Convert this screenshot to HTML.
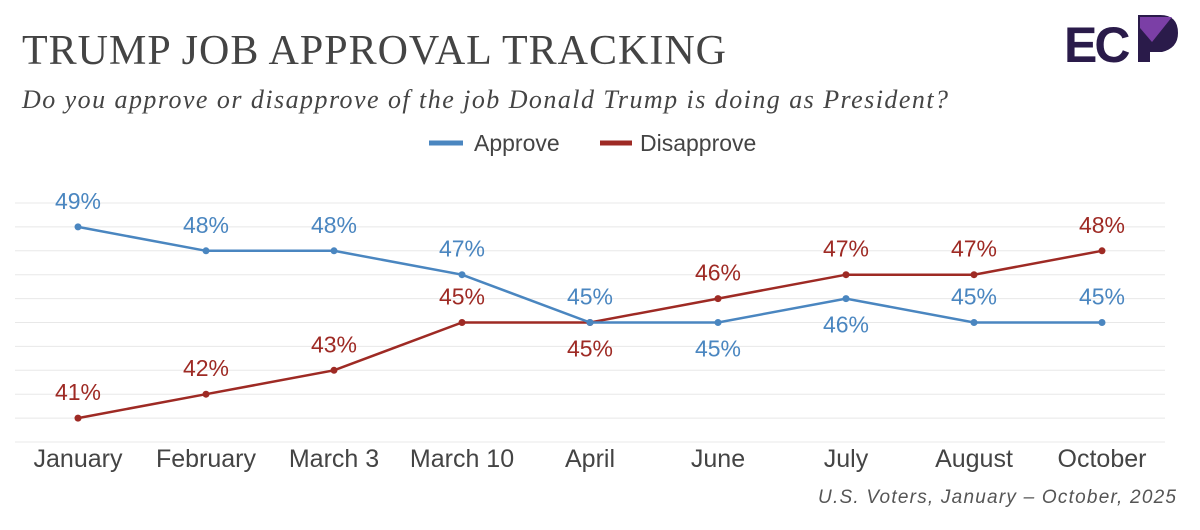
<!DOCTYPE html>
<html><head><meta charset="utf-8"><style>
body{margin:0;background:#fff;width:1200px;height:530px;overflow:hidden;font-family:"Liberation Sans",sans-serif}
svg{display:block}
</style></head><body>
<svg width="1200" height="530">
<text x="22" y="64" font-family="Liberation Serif,serif" font-size="42" fill="#444" letter-spacing="1">TRUMP JOB APPROVAL TRACKING</text>
<text x="22" y="108" font-family="Liberation Serif,serif" font-style="italic" font-size="26" fill="#444" textLength="926" lengthAdjust="spacing">Do you approve or disapprove of the job Donald Trump is doing as President?</text>
<g>
<text x="1064" y="62" font-size="50" font-weight="bold" fill="#2a1b4a" letter-spacing="-3">EC</text>
<path d="M1138 15 L1160 15 Q1178 15 1178 33 Q1178 48 1162 52 L1150 52 L1150 62 L1138 62 Z" fill="#2a1b4a"/>
<path d="M1140 17 L1172 17 L1152 42 L1140 28 Z" fill="#7b3fa6"/>
</g>
<g>
<line x1="429" y1="143" x2="463" y2="143" stroke="#4a86c0" stroke-width="5"/>
<text x="474" y="151" font-size="23" fill="#444">Approve</text>
<line x1="600" y1="143" x2="632" y2="143" stroke="#9e2a24" stroke-width="5"/>
<text x="640" y="151" font-size="23" fill="#444">Disapprove</text>
</g>
<g id="grid"></g><g id="xaxis"></g><g id="series"></g>
<text x="1176" y="503" text-anchor="end" font-style="italic" font-size="19" fill="#555" textLength="358" lengthAdjust="spacing">U.S. Voters, January – October, 2025</text>
</svg>
<script>
const categories=["January","February","March 3","March 10","April","June","July","August","October"];
const approve=[49,48,48,47,45,45,46,45,45];
const disapprove=[41,42,43,45,45,46,47,47,48];
const approveLabelBelow=[false,false,false,false,false,true,true,false,false];
const disapproveLabelBelow=[false,false,false,false,true,false,false,false,false];
const yTicks=[40,41,42,43,44,45,46,47,48,49,50];
const NS="http://www.w3.org/2000/svg";
const x=i=>78+i*128;
const y=v=>442-(v-40)*23.9;
function mk(t,a,p){const e=document.createElementNS(NS,t);for(const k in a)e.setAttribute(k,a[k]);p.appendChild(e);return e;}
const grid=document.getElementById('grid');
yTicks.forEach(t=>{const l=mk('line',{x1:15,x2:1165,y1:y(t),y2:y(t),stroke:'#e8e8e8','stroke-width':1},grid);

});
const xa=document.getElementById('xaxis');
categories.forEach((c,i)=>{const t=mk('text',{x:x(i),y:467,'text-anchor':'middle','font-size':25,fill:'#444'},xa);t.textContent=c;

});
const S=document.getElementById('series');
function draw(vals,below,col,name){
const g=mk('g',{},S);


const pl=mk('polyline',{points:vals.map((v,i)=>x(i)+','+y(v)).join(' '),fill:'none',stroke:col,'stroke-width':2.5},g);


vals.forEach((v,i)=>{const c=mk('circle',{cx:x(i),cy:y(v),r:3.5,fill:col},g);


const t=mk('text',{x:x(i),y:y(v)+(below[i]?34:-18),'text-anchor':'middle','font-size':23,fill:col},g);t.textContent=v+'%';

});
}
draw(disapprove,disapproveLabelBelow,'#9e2a24','disapprove');
draw(approve,approveLabelBelow,'#4a86c0','approve');
</script>
</body></html>
